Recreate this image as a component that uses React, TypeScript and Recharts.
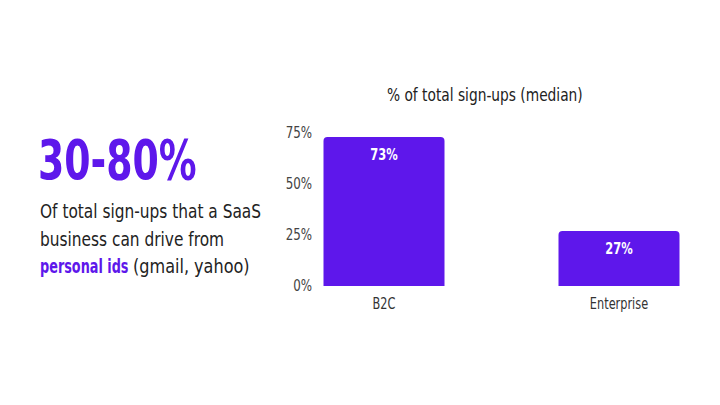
import React from "react";
import { BarChart, Bar, XAxis, YAxis, LabelList } from "recharts";

const categories = ["B2C", "Enterprise"];
const shares = [73, 27];
const yTicks = [0, 25, 50, 75];

const data = categories.map((c, i) => ({ name: c, value: shares[i] }));

const FONT = "'DejaVu Sans Condensed', 'DejaVu Sans', sans-serif";
const PURPLE = "#5E17EB";

const sx = (s: number): React.CSSProperties => ({
  display: "inline-block",
  transform: `scaleX(${s})`,
  transformOrigin: "left top",
  whiteSpace: "nowrap",
});

const XTick = (props: any) => {
  const { x, y, payload } = props;
  return (
    <text transform={`translate(${x},${y}) scale(0.84,1)`} textAnchor="middle" dy="0.71em" fontSize={15} fill="#333" fontFamily={FONT}>
      {payload.value}
    </text>
  );
};

const YTick = (props: any) => {
  const { x, y, payload } = props;
  return (
    <text transform={`translate(${x},${y}) scale(0.88,1)`} textAnchor="end" dy="0.355em" fontSize={15} fill="#444" fontFamily={FONT}>
      {`${payload.value}%`}
    </text>
  );
};

const BarLabel = (props: any) => {
  const { x, y, width, value } = props;
  return (
    <text transform={`translate(${x + width / 2},${y + 12}) scale(0.85,1)`} textAnchor="middle" dy="0.71em" fontSize={15} fontWeight={700} fill="#fff" fontFamily={FONT}>
      {`${value}%`}
    </text>
  );
};

export default function App() {
  return (
    <div style={{ position: "absolute", left: 0, top: 0, width: 720, height: 405, background: "#fff", overflow: "hidden", fontFamily: FONT }}>
      <div style={{ position: "absolute", left: 38, top: 128, fontSize: 56, fontWeight: 700, color: PURPLE, lineHeight: "64px" }}>
        <span style={sx(0.75)}>30-80%</span>
      </div>
      <div style={{ position: "absolute", left: 40, top: 198, fontSize: 19, color: "#222", lineHeight: "27.5px" }}>
        <span style={sx(0.9)}>Of total sign-ups that a SaaS</span>
      </div>
      <div style={{ position: "absolute", left: 40, top: 225.5, fontSize: 19, color: "#222", lineHeight: "27.5px" }}>
        <span style={sx(0.9)}>business can drive from</span>
      </div>
      <div style={{ position: "absolute", left: 40, top: 253, fontSize: 19, color: PURPLE, fontWeight: 700, lineHeight: "27.5px" }}>
        <span style={sx(0.75)}>personal ids</span>
      </div>
      <div style={{ position: "absolute", left: 133, top: 253, fontSize: 19, color: "#222", lineHeight: "27.5px" }}>
        <span style={sx(0.94)}>(gmail, yahoo)</span>
      </div>
      <div style={{ position: "absolute", left: 387, top: 83, fontSize: 17, color: "#222", lineHeight: "24px" }}>
        <span style={sx(0.9)}>% of total sign-ups (median)</span>
      </div>
      <div style={{ position: "absolute", left: 0, top: 0 }}>
        <BarChart width={720} height={405} data={data} margin={{ top: 133, right: 20, bottom: 89, left: 0 }}>
          <XAxis
            dataKey="name"
            axisLine={false}
            tickLine={false}
            tickSize={0}
            tickMargin={12}
            height={30}
            padding={{ left: -51.5, right: -36.5 }}
            tick={<XTick />}
          />
          <YAxis
            domain={[0, 75]}
            ticks={yTicks}
            width={318}
            axisLine={false}
            tickLine={false}
            tickSize={0}
            tickMargin={6}
            tick={<YTick />}
          />
          <Bar dataKey="value" fill={PURPLE} barSize={121} radius={[4, 4, 0, 0]} isAnimationActive={false}>
            <LabelList dataKey="value" content={<BarLabel />} />
          </Bar>
        </BarChart>
      </div>
    </div>
  );
}
